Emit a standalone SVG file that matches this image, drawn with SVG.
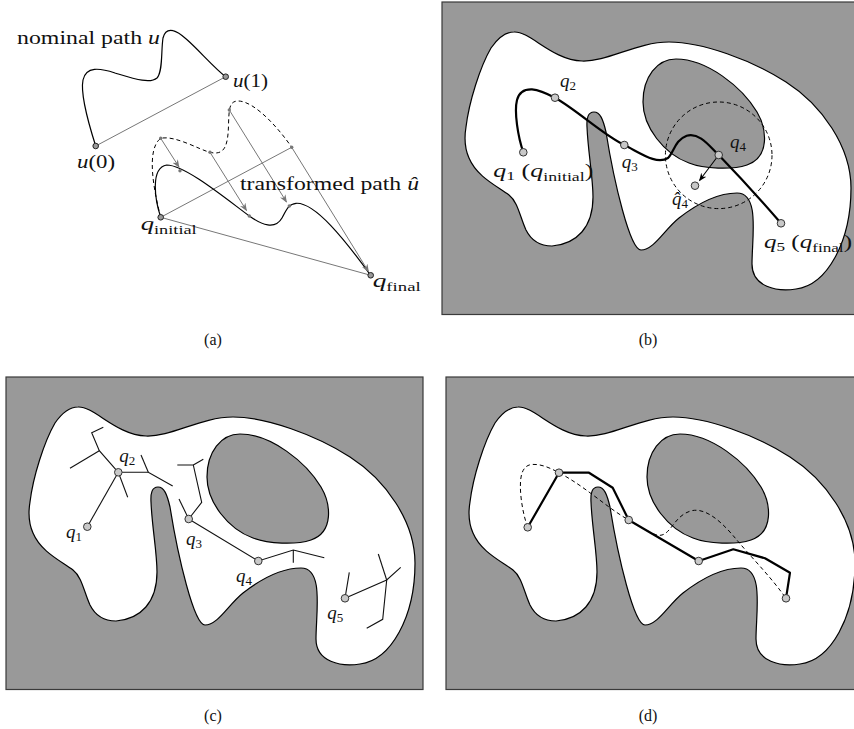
<svg xmlns="http://www.w3.org/2000/svg" xmlns:xlink="http://www.w3.org/1999/xlink" width="854" height="729" viewBox="0 0 854 729">
<style>
.frame{fill:#999;stroke:#3a3a3a;stroke-width:1.2}
.free{fill:#fff;stroke:#000;stroke-width:1.2}
.hole{fill:#999;stroke:#000;stroke-width:1.2}
.node{fill:#c8c8c8;stroke:#333;stroke-width:1}
.end{fill:#999;stroke:#222;stroke-width:1}
.dot{fill:#777}
.tree{stroke:#111;stroke-width:1.1;fill:none}
.thick{stroke:#000;stroke-width:2.2;fill:none;stroke-linejoin:round}
.dash{stroke:#000;stroke-width:1;fill:none;stroke-dasharray:4 3}
.gray{stroke:#777;stroke-width:1;fill:none}
.garr{stroke:#777;stroke-width:1;fill:none;marker-end:url(#ga)}
.curve{stroke:#000;stroke-width:1.2;fill:none}
text{font-family:"Liberation Serif","Times New Roman",serif;font-size:18px;fill:#111}
.q{font-size:19px}
.it{font-style:italic}
.sub{font-size:13px}
.cap{font-size:16px;text-anchor:middle}
</style>
<defs>
<marker id="ga" viewBox="0 0 10 10" refX="9" refY="5" markerWidth="8" markerHeight="8" markerUnits="userSpaceOnUse" orient="auto"><path d="M0,1 L10,5 L0,9 L3,5 z" fill="#777"/></marker>
<marker id="ba" viewBox="0 0 10 10" refX="9" refY="5" markerWidth="8" markerHeight="8" markerUnits="userSpaceOnUse" orient="auto"><path d="M0,1 L10,5 L0,9 L3,5 z" fill="#000"/></marker>
<g id="env">
<rect class="frame" x="0" y="0" width="417" height="312.5"/>
<path class="free" d="M 72,30 C 88,29 110,58 140,59 C 165,60 195,40 227,40 C 260,40 310,58 344,80 C 380,103 409,145 409,186 C 409,240 385,283 354,287 C 335,290 310,285 310,262 C 310,235 318,191 295,191 C 275,191 255,202 237,216 C 222,228 212,248 199,248 C 188,248 172,180 164,130 C 161,117 158,110 152,110 C 146,110 144.5,116 145,125 C 146,150 151,175 151,195 C 151,225 135,242 110,244 C 98,244 89,238 84,228 C 78,215 76,200 67,193 C 55,184 35,175 27,156 C 23,147 22,137 24,125 C 27,100 38,65 49,46 C 56,36 64,30 72,30 Z"/>
<path class="hole" d="M 201,100 C 201,75 215,57 234,57 C 265,57 300,85 315,110 C 325,127 328,155 305,163 C 290,168 262,167 247,161 C 222,152 201,125 201,100 Z"/>
</g>
</defs>

<!-- Panel (a) -->
<g id="panel-a">
  <g id="a-connectors">
    <path class="curve" d="M 95.7,146 C 89,125 80,95 83,80 C 86,66 100,68 115,73 C 135,79 150,84 157,78 C 163,72 161,50 163,38 C 165,30 170,30 173,30.7 C 185,33 210,65 225.7,76.7"/>
    <line class="gray" x1="95.7" y1="146" x2="225.7" y2="76.7"/>
    <path class="dash" d="M 160.7,217.3 C 155,195 145,150 160.7,138.3 C 175,135 200,150 210,152.3 C 225,156 228,145 228.5,125 C 229,110 229,101 238,101 C 255,101 280,130 291.7,147.3"/>
    <line class="gray" x1="160.7" y1="217.3" x2="291.7" y2="147.3"/>
    <line class="gray" x1="160.7" y1="217.3" x2="370.7" y2="275.3"/>
    <path class="curve" d="M 160.7,217.3 C 155,200 150,168 166.7,165 C 185,165 225,198 249.3,216 C 262,225 275,230 282,218 C 286,211 288,204 296,203.3 C 315,202 345,240 370.7,275.3"/>
    <line class="garr" x1="160.7" y1="138.3" x2="179" y2="167"/>
    <line class="garr" x1="210" y1="152.3" x2="246.5" y2="210.5"/>
    <line class="garr" x1="229.3" y1="110" x2="286.5" y2="202"/>
    <line class="garr" x1="291.7" y1="147.3" x2="368.5" y2="271.5"/>
  </g>
  <g id="a-dots">
    <circle class="dot" cx="160.7" cy="138.3" r="1.7"/>
    <circle class="dot" cx="210" cy="152.3" r="1.7"/>
    <circle class="dot" cx="229.3" cy="110" r="1.7"/>
    <circle class="dot" cx="291.7" cy="147.3" r="1.7"/>
    <circle class="dot" cx="180" cy="170.7" r="1.7"/>
    <circle class="dot" cx="249.3" cy="216" r="1.7"/>
    <circle class="dot" cx="289.3" cy="206" r="1.7"/>
  </g>
  <g id="a-u0"><circle class="end" cx="95.7" cy="146" r="2.8"/><text x="77" y="168" textLength="38" lengthAdjust="spacingAndGlyphs"><tspan class="it">u</tspan>(0)</text></g>
  <g id="a-u1"><circle class="end" cx="225.7" cy="76.7" r="2.8"/><text x="233" y="87" textLength="35" lengthAdjust="spacingAndGlyphs"><tspan class="it">u</tspan>(1)</text></g>
  <g id="a-qinit"><circle class="end" cx="160.7" cy="217.3" r="2.8"/><text class="q" x="140.7" y="230" textLength="56" lengthAdjust="spacingAndGlyphs"><tspan class="it">q</tspan><tspan class="sub" dy="4">initial</tspan></text></g>
  <g id="a-qfinal"><circle class="end" cx="370.7" cy="275.3" r="2.8"/><text class="q" x="372.7" y="287" textLength="48" lengthAdjust="spacingAndGlyphs"><tspan class="it">q</tspan><tspan class="sub" dy="4">final</tspan></text></g>
  <text x="17" y="44" textLength="143" lengthAdjust="spacingAndGlyphs">nominal path <tspan class="it">u</tspan></text>
  <text x="240" y="189.5" textLength="179" lengthAdjust="spacingAndGlyphs">transformed path <tspan class="it">û</tspan></text>
  <text class="cap" x="213" y="345">(a)</text>
</g>

<!-- Panel (b) -->
<g id="panel-b">
  <use xlink:href="#env" href="#env" transform="translate(442,2)"/>
  <g transform="translate(442,2)">
    <g id="b-connectors">
      <path class="thick" d="M 81.3,150.3 C 76,135 72,110 75,98 C 77,90 82,87 90,87.3 C 98,88 106,92 113,95.7 C 135,108 160,132 182.3,143 C 200,152 215,163 226,156 C 232,150 233,138 244.7,133.7 C 258,130 268,145 276.7,153 C 298,175 318,197 339,221.3"/>
      <circle class="dash" cx="276.7" cy="153.3" r="53.3"/>
      <line x1="276.7" y1="153" x2="257.5" y2="178.5" stroke="#000" stroke-width="1.1" marker-end="url(#ba)"/>
    </g>
    <g id="b-q1"><circle class="node" cx="81.3" cy="150.3" r="3.8"/></g>
    <g id="b-q2"><circle class="node" cx="113" cy="95.7" r="3.8"/></g>
    <g id="b-q3"><circle class="node" cx="182.3" cy="143" r="3.8"/></g>
    <g id="b-q4"><circle class="node" cx="276.7" cy="153" r="3.8"/></g>
    <g id="b-q4hat"><circle class="node" cx="253" cy="183.7" r="3.8"/></g>
    <g id="b-q5"><circle class="node" cx="339" cy="221.3" r="3.8"/></g>
  </g>
  <text class="q" x="560" y="87.3"><tspan class="it">q</tspan><tspan class="sub" dy="3">2</tspan></text>
  <text class="q" x="493.3" y="176.7" textLength="100" lengthAdjust="spacingAndGlyphs"><tspan class="it">q</tspan><tspan class="sub" dy="3">1</tspan><tspan dy="-3"> (</tspan><tspan class="it">q</tspan><tspan class="sub" dy="4">initial</tspan><tspan dy="-4">)</tspan></text>
  <text class="q" x="621.7" y="168.3"><tspan class="it">q</tspan><tspan class="sub" dy="3">3</tspan></text>
  <text class="q" x="730" y="148.3"><tspan class="it">q</tspan><tspan class="sub" dy="3">4</tspan></text>
  <text class="q" x="672" y="205"><tspan class="it">q&#x302;</tspan><tspan class="sub" dy="3">4</tspan></text>
  <text class="q" x="764" y="248.3" textLength="88" lengthAdjust="spacingAndGlyphs"><tspan class="it">q</tspan><tspan class="sub" dy="3">5</tspan><tspan dy="-3"> (</tspan><tspan class="it">q</tspan><tspan class="sub" dy="4">final</tspan><tspan dy="-4">)</tspan></text>
  <text class="cap" x="648" y="345">(b)</text>
</g>

<!-- Panel (c) -->
<g id="panel-c">
  <use xlink:href="#env" href="#env" transform="translate(6,377)"/>
  <g transform="translate(6,377)">
    <g id="c-connectors">
      <polyline class="tree" points="81.3,149.7 112.3,95.3"/>
      <polyline class="tree" points="112.3,95.3 93.3,73.7 85.7,55.7 97.3,50.3"/>
      <polyline class="tree" points="93.3,73.7 64,91.3"/>
      <polyline class="tree" points="112.3,95.3 121.7,120.3"/>
      <polyline class="tree" points="112.3,95.3 142.3,95.3 166.7,109"/>
      <polyline class="tree" points="142.3,95.3 135,78"/>
      <polyline class="tree" points="182.7,142 173,122"/>
      <polyline class="tree" points="182.7,142 195.7,125.3 187.3,88 171.3,88"/>
      <polyline class="tree" points="187.3,88 197.3,82.3"/>
      <polyline class="tree" points="182.7,142 252.3,184 287.3,173 318.3,180.7"/>
      <polyline class="tree" points="287.3,173 287.3,185.7"/>
      <polyline class="tree" points="339,221.3 343.3,195.3"/>
      <polyline class="tree" points="339,221.3 380.7,203 394.7,190.3"/>
      <polyline class="tree" points="380.7,203 372.3,177"/>
      <polyline class="tree" points="380.7,203 376.7,242.3 360.7,251.3"/>
    </g>
    <g id="c-q1"><circle class="node" cx="81.3" cy="149.7" r="3.8"/></g>
    <g id="c-q2"><circle class="node" cx="112.3" cy="95.3" r="3.8"/></g>
    <g id="c-q3"><circle class="node" cx="182.7" cy="142" r="3.8"/></g>
    <g id="c-q4"><circle class="node" cx="252.3" cy="184" r="3.8"/></g>
    <g id="c-q5"><circle class="node" cx="339" cy="221.3" r="3.8"/></g>
  </g>
  <text class="q" x="66" y="538.3"><tspan class="it">q</tspan><tspan class="sub" dy="3">1</tspan></text>
  <text class="q" x="119.3" y="461.7"><tspan class="it">q</tspan><tspan class="sub" dy="3">2</tspan></text>
  <text class="q" x="186" y="545"><tspan class="it">q</tspan><tspan class="sub" dy="3">3</tspan></text>
  <text class="q" x="236" y="581.7"><tspan class="it">q</tspan><tspan class="sub" dy="3">4</tspan></text>
  <text class="q" x="327.3" y="619.3"><tspan class="it">q</tspan><tspan class="sub" dy="3">5</tspan></text>
  <text class="cap" x="213" y="721">(c)</text>
</g>

<!-- Panel (d) -->
<g id="panel-d">
  <use xlink:href="#env" href="#env" transform="translate(446,377)"/>
  <g transform="translate(446,377)">
    <g id="d-connectors">
      <path class="dash" d="M 81.7,150.3 C 76,135 72,108 76,96 C 79,88 84,87 90,87.5 C 98,88 106,92 113,95.7 C 140,110 160,130 182.7,143 C 200,153 210,160 216,158 C 226,155 229,138 245.7,133.7 C 262,130 280,150 290,162 C 305,180 325,200 340,221.3"/>
      <polyline class="thick" stroke-width="2" points="81.7,150.3 113,95.7 143,95.7 166.7,110.7 182.7,143 252.7,184 287.3,172.3 319,181.3 344,195.7 340,221.3"/>
    </g>
    <g id="d-q1"><circle class="node" cx="81.7" cy="150.3" r="3.8"/></g>
    <g id="d-q2"><circle class="node" cx="113" cy="95.7" r="3.8"/></g>
    <g id="d-q3"><circle class="node" cx="182.7" cy="143" r="3.8"/></g>
    <g id="d-q4"><circle class="node" cx="252.7" cy="184" r="3.8"/></g>
    <g id="d-q5"><circle class="node" cx="340" cy="221.3" r="3.8"/></g>
  </g>
  <text class="cap" x="648" y="721">(d)</text>
</g>
</svg>
